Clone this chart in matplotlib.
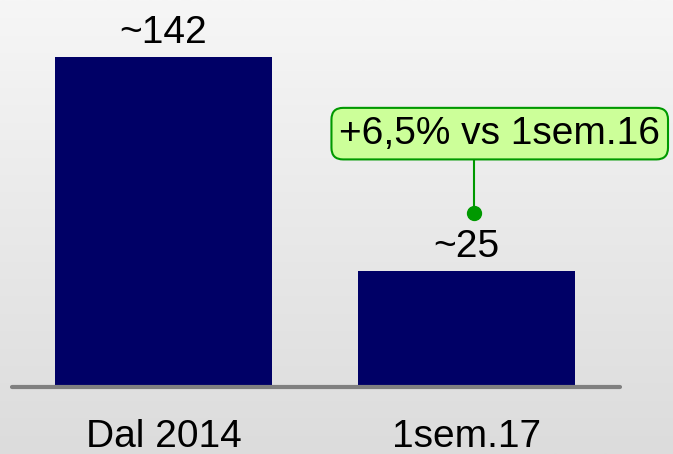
import matplotlib.pyplot as plt
import numpy as np

plt.rcParams['font.family'] = ['Liberation Sans', 'DejaVu Sans']

categories = ['Dal 2014', '1sem.17']
bar_heights = [142, 50]
value_labels = ['~142', '~25']
note_text = '+6,5% vs 1sem.16'
note_anchor = (1.025, 75)
note_text_pos = (1.11, 109)

bar_color = '#000066'
green = '#009900'

fig = plt.figure(figsize=(6.73, 4.54), dpi=100)

# background gradient
bg = fig.add_axes([0, 0, 1, 1], zorder=-1)
grad = np.linspace(0, 1, 256).reshape(-1, 1)
bg.imshow(grad, aspect='auto', cmap=plt.matplotlib.colors.LinearSegmentedColormap.from_list(
    'bg', ['#f6f6f6', '#dcdcdc']), extent=[0, 1, 0, 1], origin='upper')
bg.axis('off')

ax = fig.add_axes([12 / 673, 67 / 454, 608 / 673, 387 / 454])
ax.patch.set_alpha(0)
x = np.arange(len(categories))
ax.bar(x, bar_heights, width=0.716, color=bar_color, zorder=2)
ax.set_xlim(-0.5, 1.507)
ax.set_ylim(0, 166.5)

for xi, h, lab in zip(x, bar_heights, value_labels):
    ax.annotate(lab, (xi, h), xytext=(0, 10), textcoords='offset points',
                ha='center', va='baseline', fontsize=28, color='black')

ax.plot([-0.5, 1.507], [0, 0], color='#808080', lw=3, solid_capstyle='round',
        clip_on=False, zorder=3)

ax.set_xticks(x)
ax.set_xticklabels(categories, fontsize=28)
ax.tick_params(axis='x', length=0, pad=23)
ax.set_yticks([])
for s in ax.spines.values():
    s.set_visible(False)

# callout: vertical connector, dot and label box
ax.plot([note_anchor[0], note_anchor[0]], [note_anchor[1], note_text_pos[1]],
        color=green, lw=1.5, zorder=2.5)
ax.plot(*note_anchor, 'o', color=green, markersize=10, zorder=4)
ax.text(*note_text_pos, note_text, ha='center', va='center', fontsize=28, zorder=5,
        bbox=dict(boxstyle='round,pad=0.2,rounding_size=0.3', fc='#ccff99', ec=green, lw=1.5))

fig.savefig('out.png', dpi=100)
